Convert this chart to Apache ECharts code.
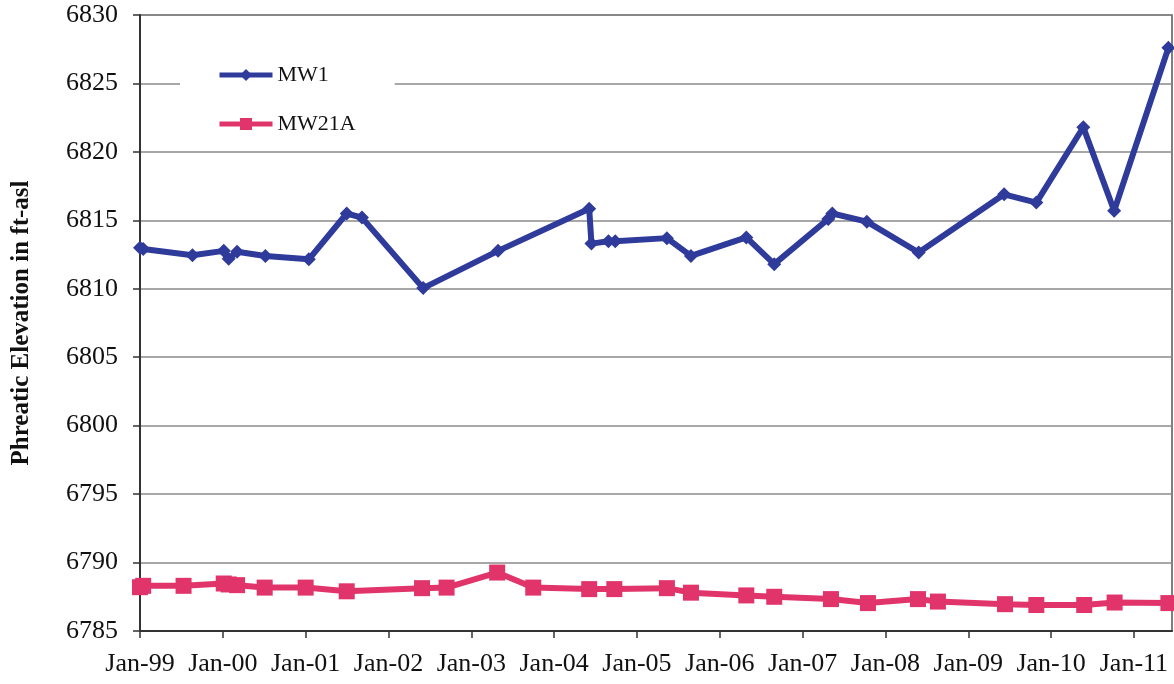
<!DOCTYPE html>
<html>
<head>
<meta charset="utf-8">
<script src="https://cdn.jsdelivr.net/npm/echarts@6/dist/echarts.min.js"></script>
<style>
  html, body { margin: 0; padding: 0; background: #fff; }
  #chart { width: 1174px; height: 684px; }
</style>
</head>
<body>
<div id="chart"></div>
<script>
// sample dates and phreatic elevations (ft-asl)
var mw1Dates = ['1999-01-01', '1999-01-15', '1999-08-20', '2000-01-05', '2000-01-27', '2000-03-04',
  '2000-07-07', '2001-01-15', '2001-07-01', '2001-09-06', '2002-06-03', '2003-04-29', '2004-06-04',
  '2004-06-14', '2004-08-28', '2004-09-27', '2005-05-13', '2005-08-27', '2006-04-28', '2006-08-29',
  '2007-04-24', '2007-05-12', '2007-10-11', '2008-05-27', '2009-06-08', '2009-10-28', '2010-05-23',
  '2010-10-06', '2011-06-02'];
var mw1Values = [6813.0, 6812.9, 6812.45, 6812.77, 6812.2, 6812.7,
  6812.4, 6812.15, 6815.5, 6815.2, 6810.05, 6812.77, 6815.85,
  6813.3, 6813.47, 6813.47, 6813.7, 6812.4, 6813.75, 6811.8,
  6815.1, 6815.5, 6814.9, 6812.65, 6816.9, 6816.3, 6821.8,
  6815.7, 6827.6];

var mw21aDates = ['1999-01-01', '1999-01-15', '1999-07-12', '2000-01-05', '2000-01-27', '2000-03-04',
  '2000-07-04', '2001-01-01', '2001-07-01', '2002-05-29', '2002-09-14', '2003-04-25', '2003-10-01',
  '2004-06-04', '2004-09-23', '2005-05-13', '2005-08-27', '2006-04-28', '2006-08-29', '2007-05-06',
  '2007-10-16', '2008-05-24', '2008-08-20', '2009-06-12', '2009-10-28', '2010-05-27', '2010-10-08',
  '2011-06-02'];
var mw21aValues = [6788.2, 6788.3, 6788.3, 6788.47, 6788.4, 6788.35,
  6788.17, 6788.17, 6787.9, 6788.13, 6788.17, 6789.27, 6788.17,
  6788.06, 6788.06, 6788.13, 6787.8, 6787.6, 6787.5, 6787.33,
  6787.04, 6787.33, 6787.15, 6786.96, 6786.9, 6786.9, 6787.08,
  6787.04];

var yTicks = [6785, 6790, 6795, 6800, 6805, 6810, 6815, 6820, 6825, 6830];
var xYears = [1999, 2000, 2001, 2002, 2003, 2004, 2005, 2006, 2007, 2008, 2009, 2010, 2011];

// date string -> decimal year
function toYear(s) {
  var p = s.split('-');
  var y = +p[0];
  var start = Date.UTC(y, 0, 1);
  var end = Date.UTC(y + 1, 0, 1);
  return y + (Date.UTC(y, +p[1] - 1, +p[2]) - start) / (end - start);
}

function pairs(dates, values) {
  return dates.map(function (d, i) { return [toYear(d), values[i]]; });
}

var serif = '"Liberation Serif", "DejaVu Serif", serif';
var blue = '#2f3b9b';
var pink = '#e0346a';

var chart = echarts.init(document.getElementById('chart'));
chart.setOption({
  animation: false,
  grid: {
    left: 140,
    right: 2,
    top: 15,
    bottom: 53,
    show: true,
    borderColor: '#555',
    borderWidth: 1.5
  },
  legend: {
    orient: 'vertical',
    left: 180,
    top: 50,
    padding: [14, 39, 14, 37],
    itemGap: 27,
    itemWidth: 53,
    itemHeight: 15,
    backgroundColor: '#fff',
    lineStyle: { width: 5 },
    textStyle: { fontFamily: serif, fontSize: 22, color: '#111' },
    data: ['MW1', 'MW21A']
  },
  xAxis: {
    type: 'value',
    min: xYears[0],
    max: 2011.46,
    interval: 1,
    splitLine: { show: false },
    axisLine: { show: true, lineStyle: { color: '#333', width: 2 } },
    axisTick: { show: true, length: 7, lineStyle: { color: '#333', width: 1.5 } },
    axisLabel: {
      margin: 20,
      fontFamily: serif,
      fontSize: 26,
      color: '#111',
      showMaxLabel: false,
      formatter: function (v) {
        if (xYears.indexOf(v) < 0) return '';
        return 'Jan-' + String(v).slice(2);
      }
    }
  },
  yAxis: {
    type: 'value',
    min: yTicks[0],
    max: yTicks[yTicks.length - 1],
    interval: 5,
    name: 'Phreatic Elevation in ft-asl',
    nameLocation: 'middle',
    nameGap: 106,
    nameTextStyle: { fontFamily: serif, fontSize: 25, fontWeight: 'bold', color: '#111' },
    axisLine: { show: true, lineStyle: { color: '#333', width: 2 } },
    axisTick: { show: true, length: 7, lineStyle: { color: '#333', width: 1.5 } },
    splitLine: { lineStyle: { color: '#8a8a8a', width: 1.5 } },
    axisLabel: {
      margin: 22,
      fontFamily: serif,
      fontSize: 26,
      color: '#111',
      formatter: function (v) { return String(v); }
    }
  },
  series: [
    {
      name: 'MW1',
      type: 'line',
      data: pairs(mw1Dates, mw1Values),
      clip: false,
      symbol: 'diamond',
      symbolSize: 14,
      color: blue,
      lineStyle: { width: 6, color: blue },
      itemStyle: { color: blue }
    },
    {
      name: 'MW21A',
      type: 'line',
      data: pairs(mw21aDates, mw21aValues),
      clip: false,
      symbol: 'rect',
      symbolSize: 16,
      color: pink,
      lineStyle: { width: 6, color: pink },
      itemStyle: { color: pink }
    }
  ]
});
</script>
</body>
</html>
